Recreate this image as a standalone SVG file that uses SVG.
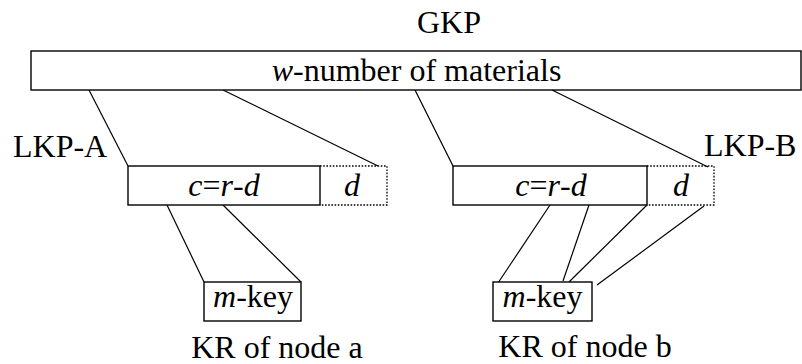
<svg xmlns="http://www.w3.org/2000/svg" width="802" height="364" viewBox="0 0 802 364">
  <rect width="802" height="364" fill="#ffffff"/>

  <!-- connectors: shared stroke set once on the group -->
  <g id="connectors" stroke="#000000" stroke-width="1.2" fill="none">
    <line x1="89" y1="90" x2="128" y2="166"/>
    <line x1="223" y1="90" x2="378" y2="166"/>
    <line x1="415" y1="90" x2="453" y2="166"/>
    <line x1="552" y1="90" x2="708" y2="167"/>
    <line x1="167" y1="205" x2="204" y2="282"/>
    <line x1="223" y1="205" x2="301" y2="282"/>
    <line x1="550" y1="205" x2="496" y2="286"/>
    <line x1="589" y1="205" x2="563" y2="281"/>
    <line x1="647" y1="205" x2="569" y2="282"/>
    <line x1="704" y1="206" x2="597" y2="285"/>
  </g>

  <!-- global key pool -->
  <g id="gkp">
    <text x="449" y="33" text-anchor="middle" font-family="Liberation Serif" font-size="32" style="font-family:'Liberation Serif',serif !important">GKP</text>
    <rect x="31" y="51" width="770" height="39" fill="#ffffff" stroke="#000000" stroke-width="1.4"/>
    <text x="416.5" y="81" text-anchor="middle" font-family="Liberation Serif" font-size="32" style="font-family:'Liberation Serif',serif !important"><tspan font-style="italic">w</tspan>-number of materials</text>
  </g>

  <!-- local key pool A -->
  <g id="lkp-a">
    <text x="13" y="157" font-family="Liberation Serif" font-size="32" style="font-family:'Liberation Serif',serif !important">LKP-A</text>
    <polyline points="320,166 387,166 387,205 320,205" fill="none" stroke="#000000" stroke-width="1.3" stroke-dasharray="1.6 1.6"/>
    <rect x="128" y="166" width="192" height="39" fill="#ffffff" stroke="#000000" stroke-width="1.4"/>
    <text x="224" y="196" text-anchor="middle" font-family="Liberation Serif" font-size="32" font-style="italic" style="font-family:'Liberation Serif',serif !important">c<tspan font-style="normal">=</tspan>r<tspan font-style="normal">-</tspan>d</text>
    <text x="352" y="196" text-anchor="middle" font-family="Liberation Serif" font-size="32" font-style="italic" style="font-family:'Liberation Serif',serif !important">d</text>
  </g>

  <!-- local key pool B -->
  <g id="lkp-b">
    <text x="704" y="156" font-family="Liberation Serif" font-size="32" style="font-family:'Liberation Serif',serif !important">LKP-B</text>
    <polyline points="647,166 714,166 714,205 647,205" fill="none" stroke="#000000" stroke-width="1.3" stroke-dasharray="1.6 1.6"/>
    <rect x="453" y="166" width="194" height="39" fill="#ffffff" stroke="#000000" stroke-width="1.4"/>
    <text x="551" y="196" text-anchor="middle" font-family="Liberation Serif" font-size="32" font-style="italic" style="font-family:'Liberation Serif',serif !important">c<tspan font-style="normal">=</tspan>r<tspan font-style="normal">-</tspan>d</text>
    <text x="681" y="196" text-anchor="middle" font-family="Liberation Serif" font-size="32" font-style="italic" style="font-family:'Liberation Serif',serif !important">d</text>
  </g>

  <!-- key ring of node a -->
  <g id="kr-a">
    <rect x="204" y="282" width="97" height="39" fill="#ffffff" stroke="#000000" stroke-width="1.4"/>
    <text x="253" y="307" text-anchor="middle" font-family="Liberation Serif" font-size="32" style="font-family:'Liberation Serif',serif !important"><tspan font-style="italic">m</tspan>-key</text>
    <text x="277" y="358" text-anchor="middle" font-family="Liberation Serif" font-size="32" style="font-family:'Liberation Serif',serif !important">KR of node a</text>
  </g>

  <!-- key ring of node b -->
  <g id="kr-b">
    <rect x="493" y="282" width="99" height="39" fill="#ffffff" stroke="#000000" stroke-width="1.4"/>
    <text x="542.5" y="307" text-anchor="middle" font-family="Liberation Serif" font-size="32" style="font-family:'Liberation Serif',serif !important"><tspan font-style="italic">m</tspan>-key</text>
    <text x="585" y="357" text-anchor="middle" font-family="Liberation Serif" font-size="32" style="font-family:'Liberation Serif',serif !important">KR of node b</text>
  </g>
</svg>
